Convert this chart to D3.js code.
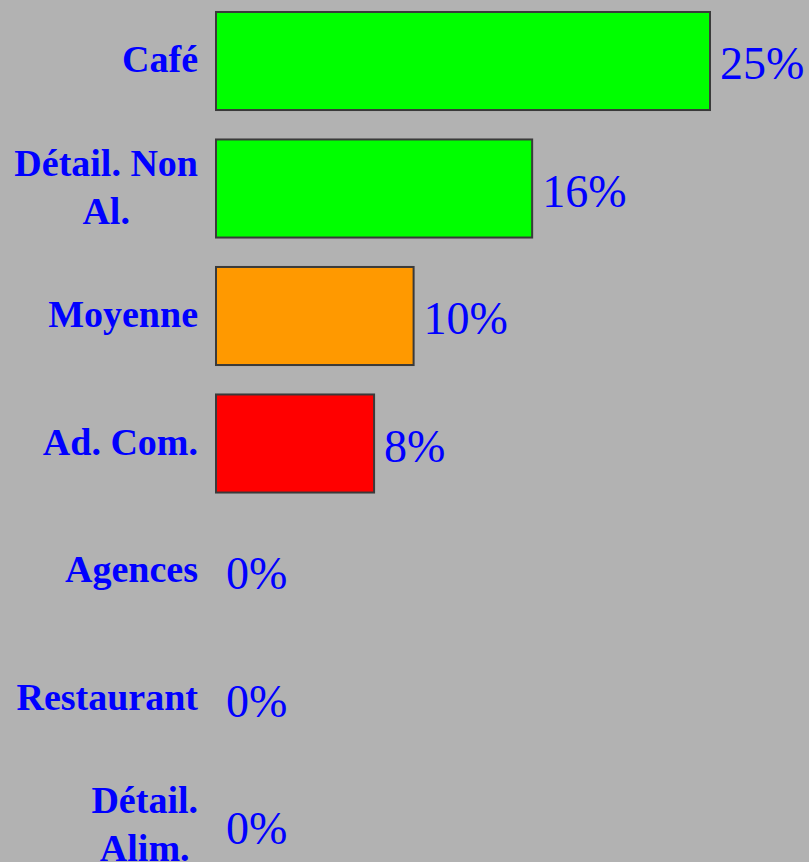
<!DOCTYPE html>
<html>
<head>
<meta charset="utf-8">
<script src="https://cdn.jsdelivr.net/npm/d3@7"></script>
<style>
  html, body { margin: 0; padding: 0; background: #b2b2b2; }
  svg { display: block; }
</style>
</head>
<body>
<svg id="chart" width="809" height="862"></svg>
<script>
const categories = ["Café", "Détail. Non Al.", "Moyenne", "Ad. Com.", "Agences", "Restaurant", "Détail. Alim."];
const values = [25, 16, 10, 8, 0, 0, 0];
const barColors = ["#00ff00", "#00ff00", "#ff9900", "#ff0000", "#00ff00", "#00ff00", "#00ff00"];
const valueLabels = ["25%", "16%", "10%", "8%", "0%", "0%", "0%"];

const svg = d3.select("#chart");
const W = 809, H = 862;

const y = d3.scaleBand()
  .domain(categories)
  .range([-2.75, 889.75])
  .paddingInner(0.231)
  .paddingOuter(0.1155);

const x = d3.scaleLinear().domain([0, 25]).range([216, 710]);

const data = categories.map((c, i) => ({ c, v: values[i], color: barColors[i], label: valueLabels[i] }));

svg.append("rect").attr("width", W).attr("height", H).attr("fill", "#b2b2b2");

svg.selectAll("rect.bar")
  .data(data.filter(d => d.v > 0))
  .join("rect")
  .attr("class", "bar")
  .attr("x", x(0))
  .attr("y", d => y(d.c))
  .attr("width", d => x(d.v) - x(0))
  .attr("height", y.bandwidth())
  .attr("fill", d => d.color)
  .attr("stroke", "#3a3a3a")
  .attr("stroke-width", 2);

svg.selectAll("text.val")
  .data(data)
  .join("text")
  .attr("class", "val")
  .attr("x", d => x(d.v) + 10)
  .attr("y", d => y(d.c) + y.bandwidth() / 2)
  .attr("dy", "0.4em")
  .attr("font-family", "'Liberation Serif', 'Times New Roman', serif")
  .attr("font-size", 46)
  .attr("fill", "#0000ff")
  .text(d => d.label);

// category labels with wrapping
const labelRight = 198;
const maxW = 192;
const fontSize = 38;
const lineH = 48;
data.forEach(d => {
  const cy = y(d.c) + y.bandwidth() / 2;
  const g = svg.append("g");
  const t = g.append("text")
    .attr("font-family", "'Liberation Serif', 'Times New Roman', serif")
    .attr("font-weight", "bold")
    .attr("font-size", fontSize)
    .attr("fill", "#0000ff");
  const words = d.c.split(" ");
  const lines = [];
  let cur = [];
  const probe = t.append("tspan");
  words.forEach(w => {
    const test = cur.concat([w]).join(" ");
    probe.text(test);
    if (probe.node().getComputedTextLength() > maxW && cur.length) {
      lines.push(cur.join(" "));
      cur = [w];
    } else {
      cur.push(w);
    }
  });
  lines.push(cur.join(" "));
  probe.remove();
  const widths = lines.map(l => {
    const p = t.append("tspan").text(l);
    const w = p.node().getComputedTextLength();
    p.remove();
    return w;
  });
  const blockW = d3.max(widths);
  const mid = labelRight - blockW / 2;
  const n = lines.length;
  lines.forEach((l, i) => {
    t.append("tspan")
      .attr("x", mid)
      .attr("y", cy + (i - (n - 1) / 2) * lineH)
      .attr("dy", "0.3em")
      .attr("text-anchor", "middle")
      .text(l);
  });
});
</script>
</body>
</html>
